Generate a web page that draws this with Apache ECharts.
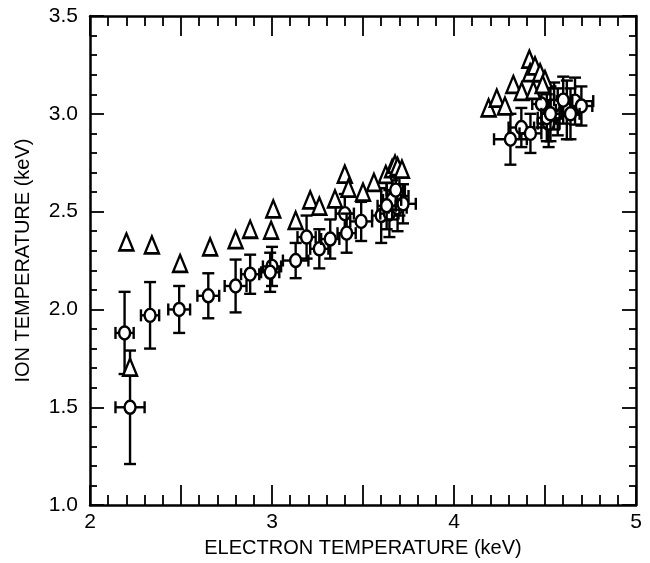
<!DOCTYPE html>
<html lang="en">
<head>
    <meta charset="UTF-8">
    <title>Ion vs electron temperature</title>
    <script src="https://cdn.jsdelivr.net/npm/echarts@6/dist/echarts.min.js"></script>
    <style>
        html, body { margin: 0; padding: 0; background: #fff; }
        #chart { width: 650px; height: 563px; }
    </style>
</head>
<body>
    <div id="chart"></div>
    <script>
        // circles (with error bars): x, y, x error, y error
        var circleX = [2.19, 2.22, 2.33, 2.49, 2.65, 2.80, 2.88, 3.00, 2.99, 3.13, 3.19, 3.26, 3.32, 3.40, 3.41, 3.49,
            3.60, 3.645, 3.69, 3.70, 3.72, 3.66, 3.63, 3.68,
            4.31, 4.37, 4.42, 4.52, 4.51, 4.57, 4.665, 4.55, 4.62, 4.70, 4.48, 4.60, 4.53, 4.64];
        var circleY = [1.88, 1.50, 1.97, 2.00, 2.07, 2.12, 2.18, 2.22, 2.19, 2.25, 2.37, 2.31, 2.36, 2.49, 2.39, 2.45,
            2.48, 2.49, 2.52, 2.58, 2.54, 2.56, 2.53, 2.61,
            2.87, 2.93, 2.90, 2.95, 2.98, 3.01, 3.065, 3.04, 3.02, 3.04, 3.05, 3.07, 3.00, 3.00];
        var circleXErr = [0.05, 0.08, 0.05, 0.06, 0.06, 0.06, 0.05, 0.05, 0.05, 0.07, 0.05, 0.05, 0.05, 0.05, 0.05, 0.06,
            0.05, 0.05, 0.05, 0.05, 0.07, 0.05, 0.05, 0.05,
            0.09, 0.07, 0.06, 0.06, 0.05, 0.06, 0.10, 0.05, 0.06, 0.06, 0.05, 0.05, 0.05, 0.05];
        var circleYErr = [0.21, 0.29, 0.17, 0.12, 0.115, 0.135, 0.10, 0.10, 0.10, 0.09, 0.11, 0.10, 0.10, 0.10, 0.10, 0.10,
            0.14, 0.12, 0.12, 0.10, 0.10, 0.10, 0.12, 0.10,
            0.13, 0.10, 0.10, 0.12, 0.12, 0.12, 0.12, 0.12, 0.15, 0.10, 0.12, 0.12, 0.14, 0.13];

        // triangles
        var triX = [2.20, 2.34, 2.495, 2.66, 2.80, 2.88, 2.995, 3.007, 2.22,
            3.13, 3.21, 3.26, 3.346, 3.40, 3.42, 3.50, 3.56, 3.625, 3.66, 3.676, 3.69, 3.714,
            4.19, 4.235, 4.28, 4.326, 4.372, 4.414, 4.418, 4.436, 4.445, 4.473, 4.50, 4.487];
        var triY = [2.345, 2.33, 2.235, 2.32, 2.357, 2.41, 2.405, 2.514, 1.705,
            2.455, 2.56, 2.528, 2.565, 2.692, 2.62, 2.60, 2.65, 2.69, 2.72, 2.743, 2.73, 2.717,
            3.03, 3.08, 3.04, 3.15, 3.115, 3.28, 3.21, 3.12, 3.245, 3.21, 3.175, 3.15];

        var xTicks = [2, 3, 4, 5];
        var xTitle = 'ELECTRON TEMPERATURE (keV)';
        var yTitle = 'ION TEMPERATURE (keV)';

        var circleData = [];
        for (var i = 0; i < circleX.length; i++) {
            circleData.push([circleX[i], circleY[i], circleXErr[i], circleYErr[i]]);
        }
        var triData = [];
        for (var j = 0; j < triX.length; j++) {
            triData.push([triX[j], triY[j]]);
        }

        var font = 'Liberation Sans, Arial, Helvetica, sans-serif';
        var line = { color: '#000', width: 2.5 };

        function renderCircle(params, api) {
            var x = api.value(0), y = api.value(1), dx = api.value(2), dy = api.value(3);
            var c = api.coord([x, y]);
            var l = api.coord([x - dx, y]), r = api.coord([x + dx, y]);
            var t = api.coord([x, y + dy]), b = api.coord([x, y - dy]);
            var cap = 6;
            var st = { stroke: '#000', lineWidth: 2.4 };
            return {
                type: 'group',
                children: [
                    { type: 'line', shape: { x1: c[0], y1: t[1], x2: c[0], y2: b[1] }, style: st },
                    { type: 'line', shape: { x1: c[0] - cap, y1: t[1], x2: c[0] + cap, y2: t[1] }, style: st },
                    { type: 'line', shape: { x1: c[0] - cap, y1: b[1], x2: c[0] + cap, y2: b[1] }, style: st },
                    { type: 'line', shape: { x1: l[0], y1: c[1], x2: r[0], y2: c[1] }, style: st },
                    { type: 'line', shape: { x1: l[0], y1: c[1] - cap, x2: l[0], y2: c[1] + cap }, style: st },
                    { type: 'line', shape: { x1: r[0], y1: c[1] - cap, x2: r[0], y2: c[1] + cap }, style: st },
                    { type: 'ellipse', shape: { cx: c[0], cy: c[1], rx: 5.5, ry: 6.5 },
                      style: { fill: '#fff', stroke: '#000', lineWidth: 2.4 } }
                ]
            };
        }

        function xAxisOf(pos, labels) {
            return {
                type: 'value', position: pos, min: 2, max: 5, interval: 0.5,
                name: labels ? xTitle : '', nameLocation: 'middle', nameGap: 28,
                nameTextStyle: { color: '#000', fontSize: 20, fontFamily: font },
                axisLine: { show: true, onZero: false, lineStyle: line },
                axisTick: { show: true, inside: true, length: 20, lineStyle: { color: '#000', width: 1.8 } },
                minorTick: { show: true, splitNumber: 5, length: 10, lineStyle: { color: '#000', width: 1.8 } },
                axisLabel: {
                    show: labels, margin: 7, color: '#000', fontSize: 21, fontFamily: font,
                    formatter: function (v) { return xTicks.indexOf(v) >= 0 ? String(v) : ''; }
                },
                splitLine: { show: false }
            };
        }

        function yAxisOf(pos, labels) {
            return {
                type: 'value', position: pos, min: 1, max: 3.5, interval: 0.5,
                name: labels ? yTitle : '', nameLocation: 'middle', nameGap: 57,
                nameTextStyle: { color: '#000', fontSize: 20, fontFamily: font },
                axisLine: { show: true, onZero: false, lineStyle: line },
                axisTick: { show: true, inside: true, length: 14, lineStyle: { color: '#000', width: 1.8 } },
                minorTick: { show: true, splitNumber: 5, length: 7, lineStyle: { color: '#000', width: 1.8 } },
                axisLabel: {
                    show: labels, margin: 12, color: '#000', fontSize: 21, fontFamily: font,
                    formatter: function (v) { return v.toFixed(1); }
                },
                splitLine: { show: false }
            };
        }

        var chart = echarts.init(document.getElementById('chart'));
        chart.setOption({
            animation: false,
            backgroundColor: '#fff',
            grid: { left: 90, right: 14, top: 16, bottom: 55 },
            xAxis: [xAxisOf('bottom', true), xAxisOf('top', false)],
            yAxis: [yAxisOf('left', true), yAxisOf('right', false)],
            series: [{
                type: 'custom',
                xAxisIndex: 0, yAxisIndex: 0,
                renderItem: renderCircle,
                encode: { x: 0, y: 1 },
                data: circleData,
                z: 2
            }, {
                type: 'scatter',
                xAxisIndex: 0, yAxisIndex: 0,
                symbol: 'triangle',
                symbolSize: [14, 17],
                itemStyle: { color: '#fff', borderColor: '#000', borderWidth: 2.5, opacity: 1 },
                data: triData,
                z: 3
            }]
        });
    </script>
</body>
</html>
